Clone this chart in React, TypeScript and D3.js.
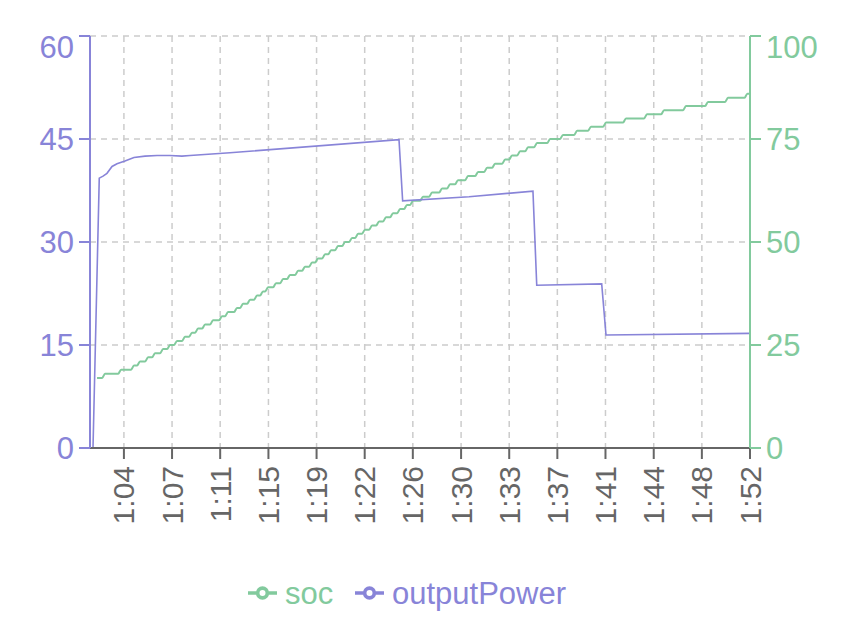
import React from "react";
import * as d3 from "d3";

// ---- data (time in minutes after 1:00) ----
const xTickTimes = [64, 67.69, 71.38, 75.08, 78.77, 82.46, 86.15, 89.85, 93.54, 97.23, 100.92, 104.62, 108.31, 112];
const xTickLabels = ["1:04", "1:07", "1:11", "1:15", "1:19", "1:22", "1:26", "1:30", "1:33", "1:37", "1:41", "1:44", "1:48", "1:52"];
const leftTicks = [0, 15, 30, 45, 60];
const rightTicks = [0, 25, 50, 75, 100];

const powerTimes = [61.4, 61.63, 62.11, 62.4, 62.7, 63.09, 63.47, 64.08, 64.77, 65.62, 66.54, 67.53, 68.45, 69.07, 72.13, 85.09, 85.37, 90.46, 95.36, 95.65, 100.63, 100.96, 112.0];
const powerValues = [0, 0, 39.3, 39.6, 40.0, 41.0, 41.4, 41.8, 42.3, 42.5, 42.6, 42.6, 42.5, 42.6, 43.0, 44.9, 36.0, 36.6, 37.4, 23.7, 23.9, 16.45, 16.7];

const socTimes = [61.94, 62.55, 63.78, 64.77, 65.23, 65.85, 66.38, 67.0, 67.53, 68.07, 68.68, 69.22, 69.68, 70.22, 70.83, 71.52, 71.98, 72.67, 73.13, 73.67, 74.2, 74.66, 75.05, 75.66, 76.2, 76.73, 77.35, 77.88, 78.42, 78.88, 79.42, 79.88, 80.41, 80.95, 81.49, 81.95, 82.48, 83.02, 83.56, 84.09, 84.63, 85.17, 85.7, 86.16, 86.93, 87.62, 88.39, 89.0, 89.61, 90.38, 91.15, 91.84, 92.45, 93.22, 93.75, 94.37, 94.98, 95.67, 96.67, 97.66, 98.74, 99.81, 100.96, 102.49, 104.1, 105.41, 107.09, 108.78, 110.31, 111.8];
const socValues = [17, 18, 19, 20, 21, 22, 23, 24, 25, 26, 27, 28, 29, 30, 31, 32, 33, 34, 35, 36, 37, 38, 39, 40, 41, 42, 43, 44, 45, 46, 47, 48, 49, 50, 51, 52, 53, 54, 55, 56, 57, 58, 59, 60, 61, 62, 63, 64, 65, 66, 67, 68, 69, 70, 71, 72, 73, 74, 75, 76, 77, 78, 79, 80, 81, 82, 83, 84, 85, 86];
const socEndTime = 112;

const PURPLE = "#8884d8";
const GREEN = "#82ca9d";
const GRAY = "#666";
const FONT = "'Liberation Sans', Arial, Helvetica, sans-serif";

export default function App() {
  const W = 854, H = 632;
  const left = 90, right = 750, top = 36, bottom = 448;
  const x = d3.scaleLinear().domain([61.4, 112]).range([left, right]);
  const yL = d3.scaleLinear().domain([0, 60]).range([bottom, top]);
  const yR = d3.scaleLinear().domain([0, 100]).range([bottom, top]);

  const powerPts: [number, number][] = powerTimes.map((t, i) => [x(t), yL(powerValues[i])]);
  const powerPath = d3.line().curve(d3.curveLinear)(powerPts) || "";

  const socPts: [number, number][] = [];
  const delta = 0.22;
  socTimes.forEach((t, i) => {
    socPts.push([x(t), yR(socValues[i])]);
    const nextT = i + 1 < socTimes.length ? socTimes[i + 1] - delta : socEndTime;
    if (nextT > t) socPts.push([x(nextT), yR(socValues[i])]);
  });
  const socPath = d3.line().curve(d3.curveMonotoneX)(socPts) || "";

  const fsY = 31;
  const fsX = 30;
  const fsLegend = 31;
  const tickLen = 11;
  const legendIcon = "M0,16h10.666666666666666A5.333333333333333,5.333333333333333,0,1,1,21.333333333333332,16H32M21.333333333333332,16A5.333333333333333,5.333333333333333,0,1,1,10.666666666666666,16";
  const iconScale = 29 / 32;

  return (
    <svg width={W} height={H} style={{ position: "absolute", left: 0, top: 0, background: "#fff" }} fontFamily={FONT}>
      {/* grid */}
      <g stroke="#ccc" strokeDasharray="6 5" strokeWidth={1.5} fill="none">
        {leftTicks.slice(1).map((v) => (
          <line key={"h" + v} x1={left} x2={right} y1={yL(v)} y2={yL(v)} />
        ))}
        {xTickTimes.map((t) => (
          <line key={"v" + t} x1={x(t)} x2={x(t)} y1={top} y2={bottom} />
        ))}
      </g>

      {/* lines */}
      <path d={socPath} fill="none" stroke={GREEN} strokeWidth={2} />
      <path d={powerPath} fill="none" stroke={PURPLE} strokeWidth={1.6} />

      {/* x axis */}
      <line x1={left} x2={right} y1={bottom} y2={bottom} stroke={GRAY} strokeWidth={2} />
      {xTickTimes.map((t, i) => (
        <g key={"xt" + t}>
          <line x1={x(t)} x2={x(t)} y1={bottom} y2={bottom + tickLen} stroke={GRAY} strokeWidth={2} />
          <text
            transform={`translate(${x(t)},${bottom + 18}) rotate(-90)`}
            textAnchor="end"
            dy="0.35em"
            fontSize={fsX}
            fill={GRAY}
          >
            {xTickLabels[i]}
          </text>
        </g>
      ))}

      {/* left axis */}
      <line x1={left} x2={left} y1={top} y2={bottom} stroke={PURPLE} strokeWidth={2} />
      {leftTicks.map((v, i) => (
        <g key={"yl" + v}>
          <line x1={left - tickLen} x2={left} y1={yL(v)} y2={yL(v)} stroke={PURPLE} strokeWidth={2} />
          <text
            x={left - tickLen - 5}
            y={yL(v)}
            dy={i === leftTicks.length - 1 ? "0.7em" : "0.35em"}
            textAnchor="end"
            fontSize={fsY}
            fill={PURPLE}
          >
            {v}
          </text>
        </g>
      ))}

      {/* right axis */}
      <line x1={right} x2={right} y1={top} y2={bottom} stroke={GREEN} strokeWidth={2} />
      {rightTicks.map((v, i) => (
        <g key={"yr" + v}>
          <line x1={right} x2={right + tickLen} y1={yR(v)} y2={yR(v)} stroke={GREEN} strokeWidth={2} />
          <text
            x={right + tickLen + 5}
            y={yR(v)}
            dy={i === rightTicks.length - 1 ? "0.7em" : "0.35em"}
            textAnchor="start"
            fontSize={fsY}
            fill={GREEN}
          >
            {v}
          </text>
        </g>
      ))}

      {/* legend */}
      <g transform={`translate(248,${593 - 16 * iconScale}) scale(${iconScale})`}>
        <path d={legendIcon} fill="none" stroke={GREEN} strokeWidth={4} />
      </g>
      <text x={285} y={593} dy="0.35em" fontSize={fsLegend} fill={GREEN}>soc</text>
      <g transform={`translate(355,${593 - 16 * iconScale}) scale(${iconScale})`}>
        <path d={legendIcon} fill="none" stroke={PURPLE} strokeWidth={4} />
      </g>
      <text x={392} y={593} dy="0.35em" fontSize={fsLegend} fill={PURPLE}>outputPower</text>
    </svg>
  );
}
